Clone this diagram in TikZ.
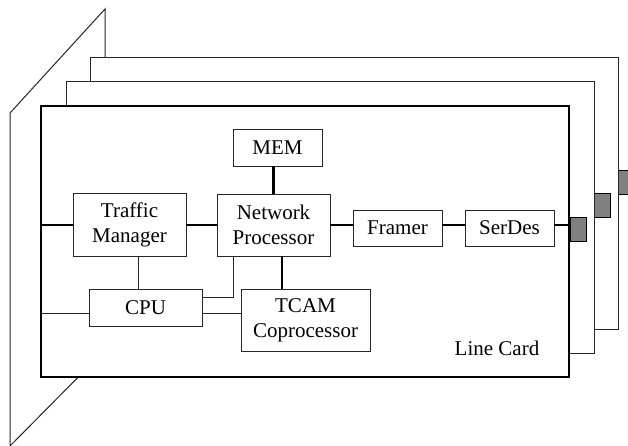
\documentclass[tikz,border=0pt]{standalone}
\usepackage{fontspec}
\setmainfont{Liberation Serif}
\begin{document}
\begin{tikzpicture}[x=1pt,y=-1pt,
  thin line/.style={line width=1pt,draw=black!85},
  thick line/.style={line width=2.6pt,draw=black},
  card/.style={draw,fill=white,anchor=north west,inner sep=0pt,outer sep=0pt,
    minimum width=528pt,minimum height=272pt},
  box/.style={draw,thin line,fill=white,inner sep=0pt,outer sep=0pt,align=center,
    font=\fontsize{21}{25}\selectfont},
  plug/.style={draw=black,line width=1pt,fill=black!50,anchor=north west,inner sep=0pt,
    outer sep=0pt,minimum width=16pt,minimum height=24pt}]
\clip (0,0) rectangle (628,445);
\fill[white] (0,0) rectangle (628,445);
% backplane
\draw[thin line,fill=white] (10,446) -- (10,113) -- (105,9) -- (105,350) -- cycle;
% plugs and cards
\node[plug] (plugc) at (618,170) {};
\node[card,thin line,fill=white] (cardc) at (90,57) {};
\node[plug] (plugb) at (594,193) {};
\node[card,thin line,fill=white] (cardb) at (66,81) {};
\node[plug] (pluga) at (570,217) {};
\node[card,draw=black,line width=2.2pt,minimum height=271pt] (carda) at (41,106) {};
% blocks
\node[box,minimum width=89pt,minimum height=37pt] (mem) at (277.5,147.5) {MEM};
\node[box,minimum width=113pt,minimum height=63pt] (tm) at (129.5,224.5) {Traffic\\Manager};
\node[box,minimum width=113pt,minimum height=62pt] (np) at (273.5,225) {Network\\Processor};
\node[box,minimum width=89pt,minimum height=36pt] (framer) at (397.5,228) {Framer};
\node[box,minimum width=89pt,minimum height=36pt] (serdes) at (509.5,228) {SerDes};
\node[box,minimum width=113pt,minimum height=37pt] (cpu) at (145.5,307.5) {CPU};
\node[box,minimum width=129pt,minimum height=62pt] (tcam) at (305.5,320) {TCAM\\Coprocessor};
\node[anchor=base,inner sep=0pt,font=\fontsize{21}{25}\selectfont] (lc) at (497,355) {Line Card};
% helper coordinates
\coordinate (hy) at (0,225);
\coordinate (cy) at (0,313);
\coordinate (nt) at (282,0);
\coordinate (tc) at (138,0);
\coordinate (nc) at (233,297);
% thick links
\draw[thick line] (carda.west |- hy) -- (tm.west |- hy);
\draw[thick line] (tm.east |- hy) -- (np.west |- hy);
\draw[thick line] (np.east |- hy) -- (framer.west |- hy);
\draw[thick line] (framer.east |- hy) -- (serdes.west |- hy);
\draw[thick line] (serdes.east |- hy) -- (carda.east |- hy);
\draw[thick line] (np.north) -- (np.north |- mem.south);
\draw[thick line] (np.south -| nt) -- (tcam.north -| nt);
% thin links
\draw[thin line] (tm.south -| tc) -- (cpu.north -| tc);
\draw[thin line] (np.south -| nc) -- (nc) -- (cpu.east |- nc);
\draw[thin line] (carda.west |- cy) -- (cpu.west |- cy);
\draw[thin line] (cpu.east |- cy) -- (tcam.west |- cy);
\end{tikzpicture}
\end{document}
